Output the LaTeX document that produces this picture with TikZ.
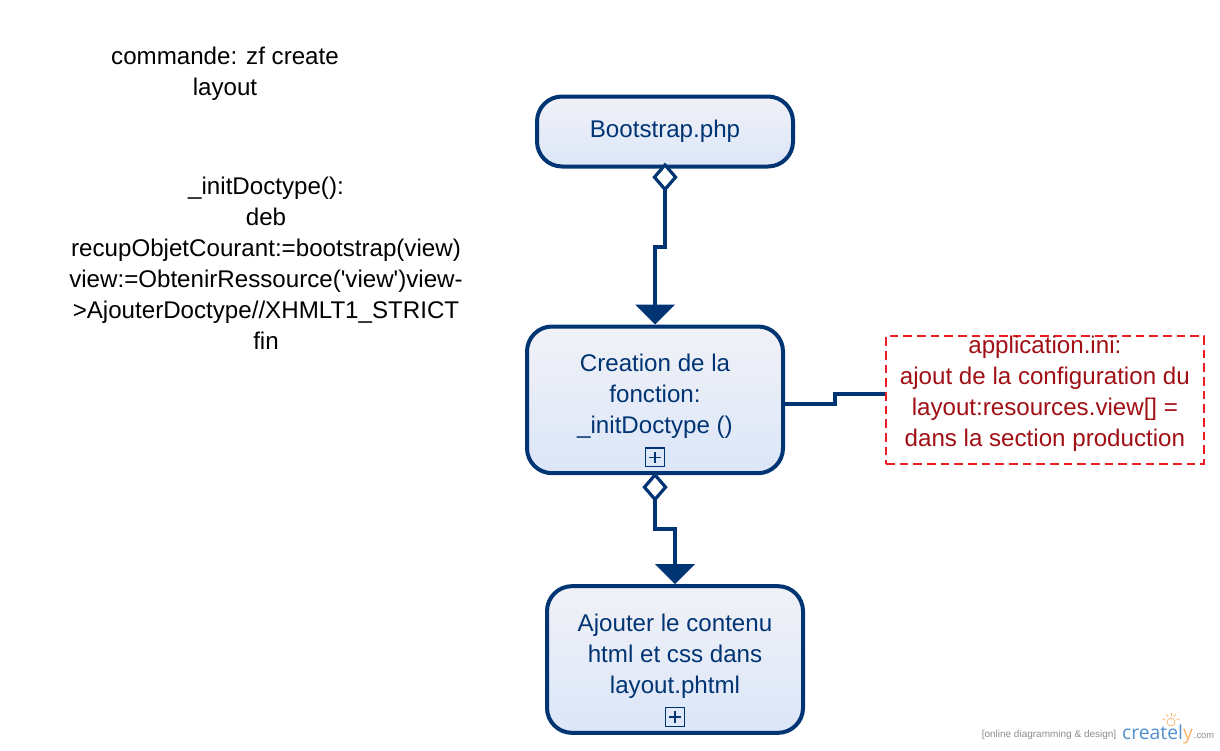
\documentclass[tikz,border=0pt]{standalone}
\usepackage{fontspec}
\setmainfont{Liberation Sans}
\newfontfamily\logofont{Open Sans}
\usetikzlibrary{calc,positioning,arrows.meta}
\definecolor{navy}{HTML}{003473}
\definecolor{boxtop}{HTML}{F1F1F7}
\definecolor{boxlow}{HTML}{DBE6F8}
\definecolor{notered}{HTML}{ED1C24}
\definecolor{notetext}{HTML}{A00F14}
\definecolor{taggray}{HTML}{8C8C8C}
\definecolor{logoblue}{HTML}{4F90CD}
\definecolor{logoorange}{HTML}{F7B267}
\tikzset{
    plain/.style={font=\fontsize{18.1}{23.25}\selectfont, align=center},
    block/.style={plain, draw=navy, line width=3pt, text=navy, rounded corners=18.75pt,
        top color=boxtop, middle color=boxlow, bottom color=boxlow,
        minimum width=192pt, inner sep=0pt},
    expandicon/.style={draw=navy, line width=0.8pt, minimum size=14pt, inner sep=0pt,
        path picture={
            \draw[navy, line width=0.9pt]
                ($(path picture bounding box.west)!0.2!(path picture bounding box.east)$) --
                ($(path picture bounding box.west)!0.8!(path picture bounding box.east)$)
                ($(path picture bounding box.south)!0.2!(path picture bounding box.north)$) --
                ($(path picture bounding box.south)!0.8!(path picture bounding box.north)$);
        }},
    flow/.style={draw=navy, line width=3pt,
        {Diamond[fill=white, length=22pt, width=19pt, line width=2.4pt]}-{Triangle[fill=navy, length=15pt, width=30pt, line width=0pt]},
        shorten <=-2pt},
}
\begin{document}
\begin{tikzpicture}[x=0.75pt, y=-0.75pt]
    \useasboundingbox (0,0) rectangle (1220,750);

    \node [plain] (command) at (225,74) {commande: zf create\\layout};
    \node [plain] (initdoc) at (266,263.5) {\_initDoctype():\\deb\\recupObjetCourant:=bootstrap(view)\\view:=ObtenirRessource(\textquotesingle view\textquotesingle)view-\\>AjouterDoctype//XHMLT1\_STRICT\\fin};

    \node [block, minimum height=52.5pt] (bootstrap) at (665,131.5) {Bootstrap.php};
    \node [block, minimum height=110pt, below=117pt of bootstrap, xshift=-7.5pt] (creation) {Creation de la\\fonction:\\\_initDoctype ()\\[-13.5pt]};
    \node [block, minimum height=110pt, below=81.75pt of creation, xshift=15pt] (layout) {Ajouter le contenu\\html et css dans\\layout.phtml\\[-15pt]};

    \node [expandicon, above=6pt of creation.south] (creationicon) {};
    \node [expandicon, above=6pt of layout.south] (layouticon) {};

    \node [draw=notered, dash pattern=on 6.5pt off 3.75pt, line width=1.3pt,
        minimum width=238.5pt, minimum height=96pt, inner sep=0pt, right=75pt of creation] (note) {};
    \node [plain, text=notetext, inner sep=0pt, yshift=4.2pt] (notelabel) at (note)
        {application.ini:\\ajout de la configuration du\\layout:resources.view[] =\\dans la section production};

    \coordinate [above=58.5pt of creation.north] (jogtop);
    \coordinate [above=41.25pt of layout.north] (joglow);

    \draw [flow, shorten <=-4.5pt] (bootstrap.south) |- (jogtop) -- (creation.north);
    \draw [flow] (creation.south) |- (joglow) -- (layout.north);
    \draw [draw=navy, line width=3pt] (creation.-2.8) -- ++(37.5pt,0) |- (note.178.4);

    % Logo
    \node [font=\fontsize{7.5}{9}\selectfont, text=taggray, inner sep=0pt] (tagline) at (1049,735) {[online diagramming \& design]};
    \node [font=\logofont\fontsize{14.5}{18}\selectfont, inner sep=0pt, right=4pt of tagline, yshift=0.5pt] (logo) {\textcolor{logoblue}{createl}\textcolor{logoorange}{y}};
    \node [font=\fontsize{7}{9}\selectfont, text=taggray, inner sep=0pt, right=0.5pt of logo, yshift=-1pt] (logocom) {.com};
    \coordinate (bulb) at (1171,722);
    \draw [logoorange, line width=0.5pt] (bulb) circle (3pt);
    \foreach \a in {20,60,90,120,160} {
        \draw [logoorange, line width=0.5pt] ($(bulb)+(\a:4.5pt)$) -- ($(bulb)+(\a:7pt)$);
    }
\end{tikzpicture}
\end{document}
